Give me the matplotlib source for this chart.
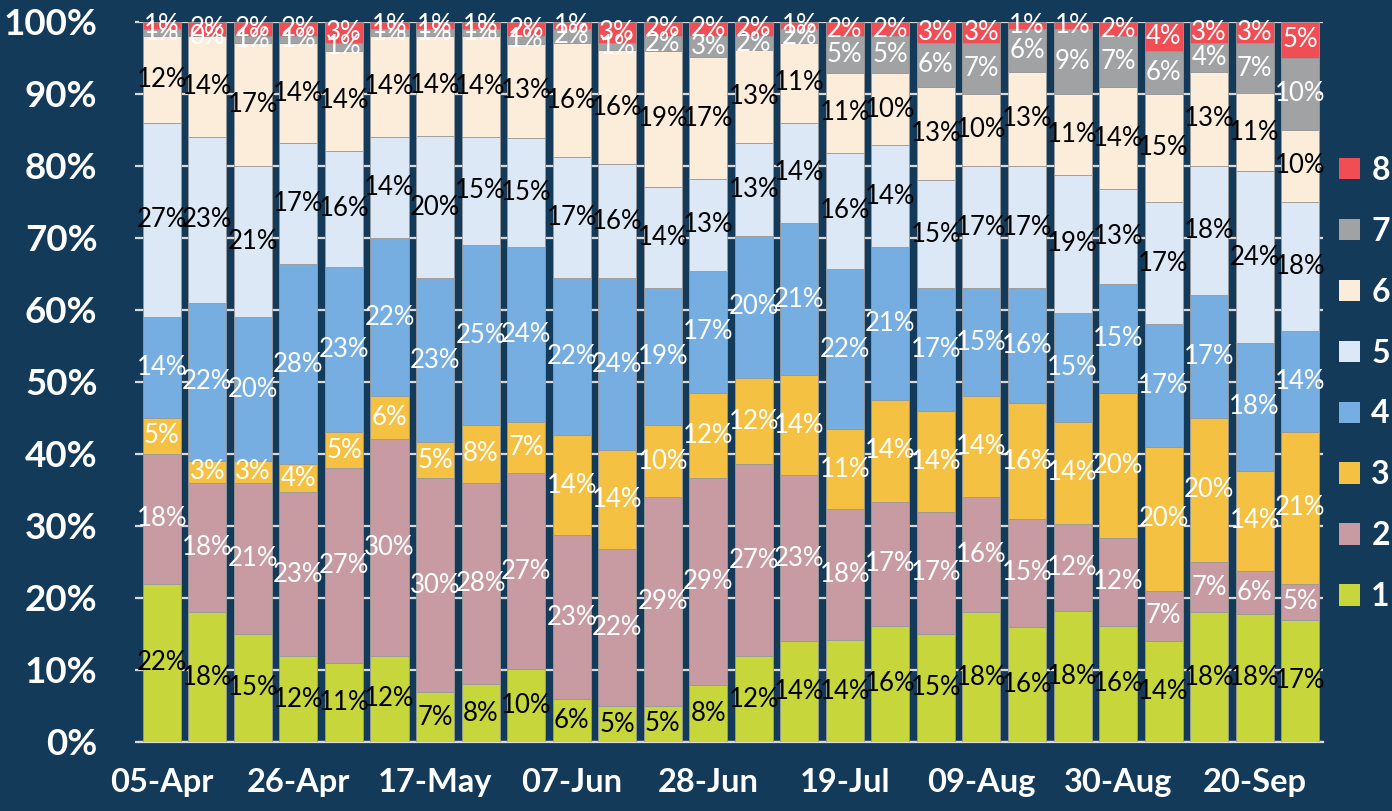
import numpy as np
import matplotlib
matplotlib.use("Agg")
from matplotlib import pyplot as plt
from matplotlib.patches import Patch

plt.rcParams['font.family'] = ['Lato', 'DejaVu Sans']

weeks = ['05-Apr', '12-Apr', '19-Apr', '26-Apr', '03-May', '10-May', '17-May', '24-May',
         '31-May', '07-Jun', '14-Jun', '21-Jun', '28-Jun', '05-Jul', '12-Jul', '19-Jul',
         '26-Jul', '02-Aug', '09-Aug', '16-Aug', '23-Aug', '30-Aug', '06-Sep', '13-Sep',
         '20-Sep', '27-Sep']

# share (%) per group, bottom (1) to top (8)
s1 = [22, 18, 15, 12, 11, 12, 7, 8, 10, 6, 5, 5, 8, 12, 14, 14, 16, 15, 18, 16, 18, 16, 14, 18, 18, 17]
s2 = [18, 18, 21, 23, 27, 30, 30, 28, 27, 23, 22, 29, 29, 27, 23, 18, 17, 17, 16, 15, 12, 12, 7, 7, 6, 5]
s3 = [5, 3, 3, 4, 5, 6, 5, 8, 7, 14, 14, 10, 12, 12, 14, 11, 14, 14, 14, 16, 14, 20, 20, 20, 14, 21]
s4 = [14, 22, 20, 28, 23, 22, 23, 25, 24, 22, 24, 19, 17, 20, 21, 22, 21, 17, 15, 16, 15, 15, 17, 17, 18, 14]
s5 = [27, 23, 21, 17, 16, 14, 20, 15, 15, 17, 16, 14, 13, 13, 14, 16, 14, 15, 17, 17, 19, 13, 17, 18, 24, 18]
s6 = [12, 14, 17, 14, 14, 14, 14, 14, 13, 16, 16, 19, 17, 13, 11, 11, 10, 13, 10, 13, 11, 14, 15, 13, 11, 10]
s7 = [1, 0, 1, 1, 1, 1, 1, 1, 1, 2, 1, 2, 3, 2, 2, 5, 5, 6, 7, 6, 9, 7, 6, 4, 7, 10]
s8 = [1, 2, 2, 2, 3, 1, 1, 1, 2, 1, 3, 2, 2, 2, 1, 2, 2, 3, 3, 1, 1, 2, 4, 3, 3, 5]

series = [s1, s2, s3, s4, s5, s6, s7, s8]
names = ['1', '2', '3', '4', '5', '6', '7', '8']
colors = ['#C6D63B', '#C79BA1', '#F5C143', '#76AEE2', '#DCE8F6', '#FBEDDA', '#A1A2A4', '#F04D55']
text_colors = ['black', 'white', 'white', 'white', 'black', 'black', 'white', 'white']
bg = '#143A5A'

data = np.array(series, dtype=float)
pct = data / data.sum(axis=0) * 100  # 100% stacked

fig = plt.figure(figsize=(13.92, 8.11), dpi=100, facecolor=bg)
ax = fig.add_axes([0.0999, 0.0851, 0.8505, 0.8881])
ax.set_facecolor(bg)

x = np.arange(len(weeks))
bottom = np.zeros(len(weeks))
for i in range(len(series)):
    bars = ax.bar(x, pct[i], 0.835, bottom=bottom, color=colors[i],
                  edgecolor='#9A9A9A', linewidth=0.6, zorder=3)
    ax.bar_label(bars, labels=[f'{v}%' for v in series[i]], label_type='center',
                 color=text_colors[i], fontsize=18.5, zorder=4)
    bottom += pct[i]

ax.set_xlim(-0.5, len(weeks) - 0.5)
ax.set_ylim(0, 100)
ax.set_yticks(np.arange(0, 101, 10))
ax.set_yticklabels([f'{v}%' for v in range(0, 101, 10)])
ax.set_xticks(x[::3])
ax.set_xticklabels(weeks[::3])
ax.yaxis.grid(True, color='#D9D9D9', linewidth=1.6, zorder=0)
ax.set_axisbelow(True)

for side in ['top', 'right', 'left']:
    ax.spines[side].set_visible(False)
ax.spines['bottom'].set_color('#D9D9D9')
ax.spines['bottom'].set_linewidth(1.6)

ax.tick_params(axis='y', colors='white', length=3, width=1.6, pad=27,
               labelsize=26.5)
ax.tick_params(axis='y', color='#D9D9D9')
ax.tick_params(axis='x', colors='white', length=0, pad=19, labelsize=23.5)
for lab in ax.get_yticklabels() + ax.get_xticklabels():
    lab.set_fontweight('bold')

handles = [Patch(facecolor=colors[i], edgecolor='none') for i in range(len(series))][::-1]
fig.legend(handles, names[::-1], loc='upper left', bbox_to_anchor=(0.962, 0.808),
           frameon=False, borderpad=0, borderaxespad=0, handlelength=0.66,
           handleheight=0.66, handletextpad=0.35, labelspacing=1.0,
           labelcolor='white', prop={'weight': 'bold', 'size': 23})

fig.savefig('out.png', dpi=100, facecolor=bg)
